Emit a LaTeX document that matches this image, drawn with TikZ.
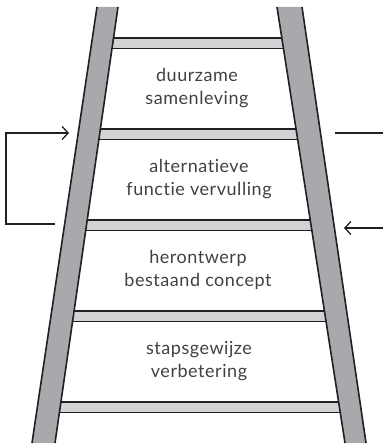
\documentclass[tikz,border=0pt]{standalone}
\usepackage{fontspec}
\setmainfont{Lato}[Ligatures={NoCommon,NoRequired,NoContextual},LetterSpace=3]
\usetikzlibrary{arrows.meta}
\definecolor{railgray}{HTML}{A7A9AC}
\definecolor{runggray}{HTML}{D1D3D4}
\definecolor{ink}{HTML}{231F20}
\definecolor{labelgray}{HTML}{414042}
\tikzset{
  rail/.style={fill=railgray},
  railedge/.style={draw=ink,line width=1.6pt},
  rungbar/.style={fill=runggray,draw=ink,line width=1.5pt},
  steplabel/.style={align=center,text=labelgray,font=\fontsize{18}{23}\selectfont},
  flow/.style={draw=ink,line width=1.3pt},
  flowtip/.style={-{Straight Barb[length=6pt,width=13pt,line width=1.3pt]}}
}
\begin{document}
\begin{tikzpicture}[x=1pt,y=-1pt]
  \useasboundingbox (0,0) rectangle (383,446);
  % rungs, kept between the outer edges of the rails
  \begin{scope}
    \clip (97,7) -- (302,7) -- (366,443) -- (32,443) -- cycle;
    \foreach \t in {38,129,220,311,402}{
      \path[rungbar] (20,\t) rectangle (370,\t+10.5);
    }
  \end{scope}
  % left rail
  \path[rail] (97,7) -- (118,7) -- (55,443) -- (32,443) -- cycle;
  \draw[railedge] (97,7) -- (32,443);
  \draw[railedge] (118,7) -- (55,443);
  % right rail
  \path[rail] (277,7) -- (302,7) -- (366,443) -- (345,443) -- cycle;
  \draw[railedge] (277,7) -- (345,443);
  \draw[railedge] (302,7) -- (366,443);
  % step labels
  \node[steplabel] (s4) at (197,88) {duurzame\\samenleving};
  \node[steplabel] (s3) at (199,179) {alternatieve\\functie vervulling};
  \node[steplabel] (s2) at (198,270) {herontwerp\\bestaand concept};
  \node[steplabel] (s1) at (199,361) {stapsgewijze\\verbetering};
  % feedback loop on the left
  \coordinate (loopstart) at (55,224);
  \coordinate (loopend) at (69,133);
  \draw[flow,flowtip] (loopstart) -- (6,224) -- (6,133) -- (loopend);
  % lines on the right
  \coordinate (outtop) at (335,133);
  \coordinate (outedge) at (383,133);
  \draw[flow] (outtop) -- (outedge);
  \coordinate (inedge) at (383,228);
  \coordinate (intip) at (344,228);
  \draw[flow,flowtip] (inedge) -- (intip);
\end{tikzpicture}
\end{document}
